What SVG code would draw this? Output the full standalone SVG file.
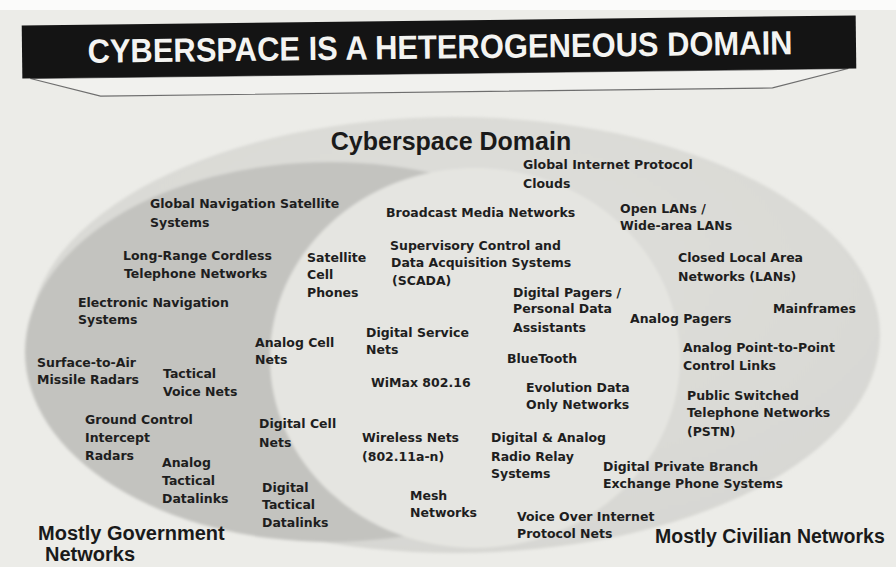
<svg xmlns="http://www.w3.org/2000/svg" width="896" height="567" viewBox="0 0 896 567">
  <defs>
    <style>
      .lbl { font-family: "DejaVu Sans", "Noto Sans", sans-serif; font-weight: bold; font-size: 12.5px; fill: #1e1e1e; }
      .head { font-family: "Liberation Sans", Arial, sans-serif; font-weight: bold; fill: #1a1a1a; }
      .title { font-family: "Liberation Sans", Arial, sans-serif; font-weight: bold; font-size: 33.5px; fill: #f4f4f2; }
    </style>
    <filter id="soft" x="-5%" y="-5%" width="110%" height="110%">
      <feGaussianBlur stdDeviation="1.6"/>
    </filter>
    <radialGradient id="outerFill" cx="0.5" cy="0.35" r="0.65">
      <stop offset="0" stop-color="#dfdfdb"/>
      <stop offset="1" stop-color="#d7d7d3"/>
    </radialGradient>
  </defs>

  <!-- page -->
  <rect x="0" y="0" width="896" height="567" fill="#ecece8"/>
  <rect x="0" y="0" width="896" height="10" fill="#fbfbfa"/>

  <!-- title banner -->
  <g id="banner" transform="rotate(-0.7 439 47)">
    <polygon points="30,73.5 100,92 772,92 848,73.5" fill="#f1f1ee" stroke="#6e6e6e" stroke-width="1.2"/>
    <rect x="22" y="20.5" width="834" height="53" fill="#141414"/>
    <text class="title" x="440" y="58.5" text-anchor="middle" textLength="705" lengthAdjust="spacingAndGlyphs">CYBERSPACE IS A HETEROGENEOUS DOMAIN</text>
  </g>

  <!-- domain regions -->
  <g id="regions" filter="url(#soft)">
    <ellipse id="cyberspace-domain" cx="455" cy="335" rx="425" ry="218" fill="url(#outerFill)"/>
    <ellipse id="government-networks" cx="330" cy="352" rx="305" ry="190" fill="#c3c3bf"/>
    <ellipse id="shared-networks" cx="475" cy="358" rx="205" ry="190" fill="#e5e5e1"/>
  </g>

  <!-- region captions -->
  <g id="caption-domain">
    <text class="head" x="451" y="150" font-size="25" text-anchor="middle">Cyberspace Domain</text>
  </g>
  <g id="caption-government">
    <text class="head" x="38" y="540" font-size="20">Mostly Government</text>
    <text class="head" x="45" y="561" font-size="20">Networks</text>
  </g>
  <g id="caption-civilian">
    <text class="head" x="655" y="543" font-size="19.5">Mostly Civilian Networks</text>
  </g>

  <!-- network labels -->
  <g id="gnss"><text class="lbl" x="150" y="208">Global Navigation Satellite<tspan x="150" y="227">Systems</tspan></text></g>
  <g id="long-range-cordless"><text class="lbl" x="123" y="260">Long-Range Cordless<tspan x="124" y="278">Telephone Networks</tspan></text></g>
  <g id="satellite-cell"><text class="lbl" x="307" y="262">Satellite<tspan x="307" y="279">Cell</tspan><tspan x="307" y="297">Phones</tspan></text></g>
  <g id="electronic-navigation"><text class="lbl" x="78" y="307">Electronic Navigation<tspan x="78" y="324">Systems</tspan></text></g>
  <g id="surface-to-air"><text class="lbl" x="37" y="367">Surface-to-Air<tspan x="37" y="384">Missile Radars</tspan></text></g>
  <g id="tactical-voice"><text class="lbl" x="163" y="378">Tactical<tspan x="163" y="396">Voice Nets</tspan></text></g>
  <g id="ground-control"><text class="lbl" x="85" y="424">Ground Control<tspan x="85" y="442">Intercept</tspan><tspan x="85" y="460">Radars</tspan></text></g>
  <g id="analog-tactical"><text class="lbl" x="162" y="467">Analog<tspan x="162" y="485">Tactical</tspan><tspan x="162" y="503">Datalinks</tspan></text></g>
  <g id="analog-cell"><text class="lbl" x="255" y="347">Analog Cell<tspan x="255" y="364">Nets</tspan></text></g>
  <g id="digital-cell"><text class="lbl" x="259" y="428">Digital Cell<tspan x="259" y="447">Nets</tspan></text></g>
  <g id="digital-tactical"><text class="lbl" x="262" y="492">Digital<tspan x="262" y="509">Tactical</tspan><tspan x="262" y="527">Datalinks</tspan></text></g>

  <g id="broadcast-media"><text class="lbl" x="386" y="217">Broadcast Media Networks</text></g>
  <g id="scada"><text class="lbl" x="390" y="250">Supervisory Control and<tspan x="391" y="267">Data Acquisition Systems</tspan><tspan x="392" y="285">(SCADA)</tspan></text></g>
  <g id="digital-service"><text class="lbl" x="366" y="337">Digital Service<tspan x="366" y="354">Nets</tspan></text></g>
  <g id="wimax"><text class="lbl" x="371" y="387">WiMax 802.16</text></g>
  <g id="wireless"><text class="lbl" x="362" y="442">Wireless Nets<tspan x="362" y="461">(802.11a-n)</tspan></text></g>
  <g id="mesh"><text class="lbl" x="410" y="500">Mesh<tspan x="410" y="517">Networks</tspan></text></g>
  <g id="digital-pagers"><text class="lbl" x="513" y="297">Digital Pagers /<tspan x="513" y="313">Personal Data</tspan><tspan x="513" y="332">Assistants</tspan></text></g>
  <g id="bluetooth"><text class="lbl" x="507" y="363">BlueTooth</text></g>
  <g id="evdo"><text class="lbl" x="526" y="392">Evolution Data<tspan x="526" y="409">Only Networks</tspan></text></g>
  <g id="radio-relay"><text class="lbl" x="491" y="442">Digital &amp; Analog<tspan x="491" y="461">Radio Relay</tspan><tspan x="491" y="478">Systems</tspan></text></g>
  <g id="voip"><text class="lbl" x="517" y="521">Voice Over Internet<tspan x="517" y="538">Protocol Nets</tspan></text></g>

  <g id="global-ip"><text class="lbl" x="523" y="169">Global Internet Protocol<tspan x="523" y="188">Clouds</tspan></text></g>
  <g id="open-lans"><text class="lbl" x="620" y="213">Open LANs /<tspan x="620" y="230">Wide-area LANs</tspan></text></g>
  <g id="closed-lans"><text class="lbl" x="678" y="262">Closed Local Area<tspan x="678" y="281">Networks (LANs)</tspan></text></g>
  <g id="mainframes"><text class="lbl" x="773" y="313">Mainframes</text></g>
  <g id="analog-pagers"><text class="lbl" x="630" y="323">Analog Pagers</text></g>
  <g id="analog-p2p"><text class="lbl" x="683" y="352">Analog Point-to-Point<tspan x="683" y="370">Control Links</tspan></text></g>
  <g id="pstn"><text class="lbl" x="687" y="400">Public Switched<tspan x="687" y="417">Telephone Networks</tspan><tspan x="687" y="436">(PSTN)</tspan></text></g>
  <g id="private-branch"><text class="lbl" x="603" y="471">Digital Private Branch<tspan x="603" y="488">Exchange Phone Systems</tspan></text></g>

  <!-- no connectors in this figure -->
  <g id="connectors"/>
</svg>
